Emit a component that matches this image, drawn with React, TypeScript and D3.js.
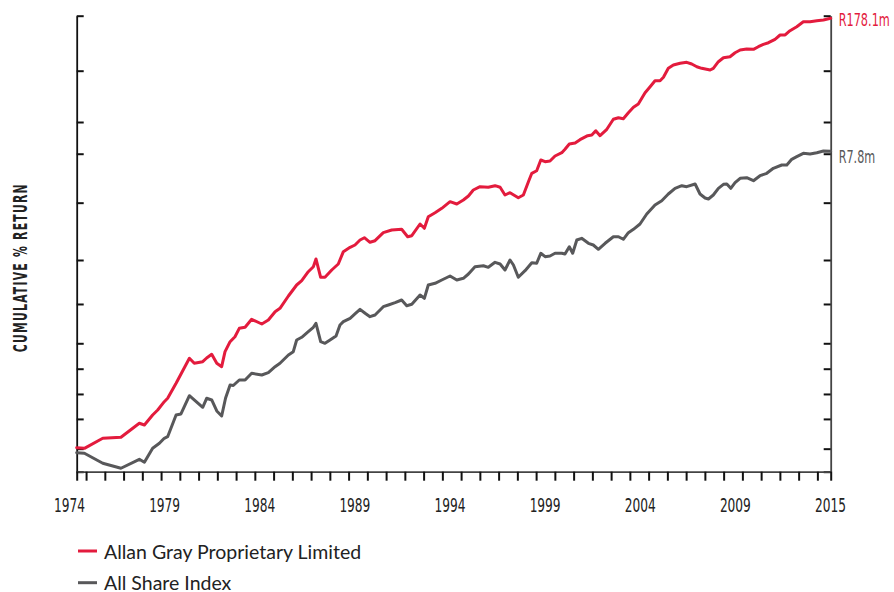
import React, { useEffect, useRef } from "react";
import * as d3 from "d3";

// cumulative value in R thousands, [decimal year, value]
const agSeries: [number, number][] = [
  [1974.50, 7.32], [1974.91, 7.21], [1975.89, 9.13], [1976.86, 9.35], [1977.84, 12.99], [1978.11, 12.49],
  [1978.55, 15.79], [1978.82, 17.76], [1979.17, 21.59], [1979.35, 23.39], [1979.80, 33.29], [1980.51, 59.93],
  [1980.77, 53.27], [1981.22, 55.33], [1981.43, 60.36], [1981.70, 65.83], [1981.97, 53.27], [1982.23, 49.18],
  [1982.41, 69.98], [1982.68, 88.58], [1982.94, 99.6], [1983.17, 121.3], [1983.48, 124.3], [1983.83, 150.0],
  [1984.37, 134.3], [1984.72, 147.5], [1985.08, 179.3], [1985.34, 194.2], [1985.79, 259.4], [1986.23, 336.0],
  [1986.50, 371.7], [1986.85, 459.4], [1987.12, 516.7], [1987.26, 619.5], [1987.51, 402.7], [1987.74, 402.7],
  [1988.10, 478.2], [1988.45, 550.7], [1988.72, 735.5], [1989.08, 815.5], [1989.34, 861.0], [1989.61, 968.3],
  [1989.84, 1022], [1990.14, 917.4], [1990.41, 952.6], [1990.85, 1150], [1991.30, 1225], [1991.83, 1245],
  [1992.15, 1046], [1992.37, 1072], [1992.81, 1411], [1993.04, 1275], [1993.25, 1675], [1993.61, 1840],
  [1993.97, 2040], [1994.41, 2384], [1994.77, 2258], [1995.12, 2480], [1995.39, 2726], [1995.65, 3139],
  [1996.01, 3393], [1996.45, 3346], [1996.81, 3474], [1997.08, 3346], [1997.34, 2791], [1997.61, 2946],
  [1998.05, 2619], [1998.32, 2791], [1998.59, 3816], [1998.77, 4649], [1999.03, 4941], [1999.25, 6356],
  [1999.48, 6108], [1999.74, 6209], [2000.01, 6985], [2000.37, 7547], [2000.54, 8175], [2000.77, 9262],
  [2001.08, 9483], [2001.34, 10250], [2001.75, 11260], [2001.97, 11450], [2002.18, 12660], [2002.41, 11260],
  [2002.77, 13090], [2003.12, 16560], [2003.39, 17190], [2003.65, 16800], [2003.92, 19340], [2004.19, 21960],
  [2004.45, 23730], [2004.81, 30950], [2005.08, 35650], [2005.34, 41050], [2005.61, 41050], [2005.79, 44460],
  [2006.05, 54950], [2006.32, 59380], [2006.68, 61800], [2007.03, 63270], [2007.30, 60800], [2007.57, 57060],
  [2007.83, 54950], [2008.28, 52790], [2008.45, 54950], [2008.72, 64180], [2008.99, 70510], [2009.34, 72190],
  [2009.61, 79300], [2009.88, 84540], [2010.23, 86540], [2010.59, 85920], [2010.85, 91330], [2011.12, 96630],
  [2011.39, 100350], [2011.74, 108700], [2012.01, 120300], [2012.28, 120300], [2012.54, 133000], [2012.90, 146200],
  [2013.25, 164400], [2013.61, 164400], [2013.97, 168300], [2014.32, 171100], [2014.71, 178100],
];

const asiSeries: [number, number][] = [
  [1974.50, 6.51], [1974.91, 6.42], [1975.89, 5.07], [1976.86, 4.51], [1977.84, 5.57], [1978.11, 5.19],
  [1978.55, 7.21], [1978.91, 8.11], [1979.17, 9.13], [1979.35, 9.48], [1979.80, 15.79], [1980.06, 16.17],
  [1980.51, 24.86], [1981.22, 18.93], [1981.43, 23.39], [1981.70, 22.47], [1981.97, 17.35], [1982.23, 15.43],
  [1982.44, 23.56], [1982.68, 31.98], [1982.85, 31.61], [1983.17, 35.96], [1983.48, 35.96], [1983.83, 42.10],
  [1984.37, 40.46], [1984.72, 42.70], [1985.08, 49.18], [1985.34, 53.27], [1985.79, 64.75], [1986.05, 69.98],
  [1986.23, 92.18], [1986.50, 98.2], [1986.85, 112.0], [1987.12, 124.3], [1987.26, 136.5], [1987.51, 88.58],
  [1987.74, 85.28], [1988.01, 92.18], [1988.33, 101.2], [1988.54, 131.2], [1988.72, 141.8], [1989.08, 153.5],
  [1989.34, 169.9], [1989.61, 189.7], [1989.88, 172.7], [1990.14, 159.4], [1990.41, 165.9], [1990.85, 201.7],
  [1991.12, 209.9], [1991.48, 221.6], [1991.83, 236.1], [1992.10, 206.5], [1992.37, 213.4], [1992.81, 265.6],
  [1993.04, 245.7], [1993.25, 336.0], [1993.61, 349.7], [1993.97, 377.9], [1994.41, 415.2], [1994.77, 377.9],
  [1995.12, 393.3], [1995.39, 435.2], [1995.74, 516.8], [1996.19, 529.0], [1996.45, 509.5], [1996.81, 573.1],
  [1997.08, 550.7], [1997.34, 478.2], [1997.61, 605.1], [1997.79, 537.9], [1998.05, 402.7], [1998.41, 470.4],
  [1998.77, 567.7], [1999.03, 559.8], [1999.25, 708.5], [1999.48, 653.9], [1999.74, 664.8], [2000.01, 708.5],
  [2000.37, 708.5], [2000.54, 696.6], [2000.77, 827.0], [2000.95, 708.5], [2001.17, 968.3], [2001.43, 1008],
  [2001.79, 896.1], [2002.05, 861.0], [2002.32, 778.0], [2002.68, 896.1], [2003.12, 1046], [2003.39, 1046],
  [2003.65, 984.5], [2003.92, 1150], [2004.19, 1245], [2004.54, 1411], [2004.90, 1785], [2005.34, 2206],
  [2005.70, 2440], [2006.05, 2857], [2006.41, 3267], [2006.77, 3474], [2007.03, 3393], [2007.48, 3615],
  [2007.74, 2857], [2008.01, 2601], [2008.19, 2540], [2008.45, 2791], [2008.72, 3267], [2008.99, 3589],
  [2009.17, 3615], [2009.38, 3267], [2009.61, 3727], [2009.88, 4134], [2010.23, 4193], [2010.59, 3907],
  [2010.94, 4394], [2011.30, 4649], [2011.65, 5229], [2012.10, 5652], [2012.37, 5652], [2012.63, 6463],
  [2012.90, 6870], [2013.25, 7442], [2013.61, 7320], [2013.97, 7547], [2014.32, 7858], [2014.71, 7800],
];

const yearLabels = ["1974", "1979", "1984", "1989", "1994", "1999", "2004", "2009", "2015"];
const yTickValues = [4.16, 7.15, 14.4, 25.9, 46.9, 85.3, 215, 605, 2330, 7370, 15540, 51940, 189400];
const seriesNames = ["Allan Gray Proprietary Limited", "All Share Index"];
const endLabels = ["R178.1m", "R7.8m"];

const RED = "#e31b3d";
const GREY = "#58585a";
const narrow = "'Liberation Sans Narrow', 'DejaVu Sans Condensed', 'Roboto', sans-serif";

export default function App() {
  const svgRef = useRef<SVGSVGElement>(null);

  useEffect(() => {
    const svg = d3.select(svgRef.current);
    svg.selectAll("*").remove();

    const plot = { left: 76.7, right: 830.7, top: 15.7, bottom: 471.7 };

    const x = d3.scaleLinear().domain([1974.5, 2014.71]).range([plot.left, plot.right]);
    const y = d3
      .scaleLog()
      .domain([yTickValues[0], yTickValues[yTickValues.length - 1]])
      .range([plot.bottom, plot.top]);

    // axes
    const styleAxis = (g, domainColor) => {
      g.select(".domain").attr("stroke", domainColor).attr("stroke-width", 1.8);
      g.selectAll(".tick line").attr("stroke", "#111").attr("stroke-width", 2);
    };

    svg
      .append("g")
      .attr("transform", `translate(${plot.left},0)`)
      .call(d3.axisLeft(y).tickValues(yTickValues).tickSize(-7).tickSizeOuter(0).tickFormat(() => ""))
      .call((g) => styleAxis(g, "#111"));

    svg
      .append("g")
      .attr("transform", `translate(${plot.right},0)`)
      .call(d3.axisRight(y).tickValues(yTickValues).tickSize(-7).tickSizeOuter(0).tickFormat(() => ""))
      .call((g) => styleAxis(g, "#444"));

    const xTicks = [x.domain()[0], ...d3.range(1975, 2015), x.domain()[1]];
    svg
      .append("g")
      .attr("transform", `translate(0,${plot.bottom})`)
      .call(d3.axisBottom(x).tickValues(xTicks).tickSize(9).tickSizeOuter(0).tickFormat(() => ""))
      .call((g) => styleAxis(g, "#444"));

    // year labels, spread evenly under the axis
    const labelX = d3.scalePoint().domain(yearLabels).range([69.5, 830.5]);
    svg
      .append("g")
      .selectAll("text")
      .data(yearLabels)
      .join("text")
      .attr("x", (d) => labelX(d))
      .attr("y", 511.5)
      .attr("text-anchor", "middle")
      .attr("textLength", 31)
      .attr("lengthAdjust", "spacingAndGlyphs")
      .style("font-family", narrow)
      .style("font-size", "19px")
      .attr("fill", "#222")
      .text((d) => d);

    // y title
    svg
      .append("text")
      .attr("transform", `translate(26.5,${(plot.top + plot.bottom) / 2 + 24}) rotate(-90)`)
      .attr("text-anchor", "middle")
      .attr("textLength", 169)
      .attr("lengthAdjust", "spacingAndGlyphs")
      .style("font-family", narrow)
      .style("font-size", "20px")
      .style("font-weight", "bold")
      .style("letter-spacing", "2px")
      .attr("fill", "#222")
      .text("CUMULATIVE % RETURN");

    // lines
    const line = d3
      .line<[number, number]>()
      .x((d) => x(d[0]))
      .y((d) => y(d[1]));

    const series = [
      { data: asiSeries, color: GREY, label: endLabels[1], dy: 12 },
      { data: agSeries, color: RED, label: endLabels[0], dy: 7.5 },
    ];

    series.forEach(({ data, color }) => {
      svg
        .append("path")
        .datum(data)
        .attr("d", line)
        .attr("fill", "none")
        .attr("stroke", color)
        .attr("stroke-width", 3)
        .attr("stroke-linejoin", "round")
        .attr("stroke-linecap", "round");
    });

    // end value labels
    series.forEach(({ data, color, label, dy }) => {
      const last = data[data.length - 1];
      svg
        .append("text")
        .attr("x", plot.right + 8)
        .attr("y", y(last[1]) + dy)
        .attr("textLength", label.length * 7.3)
        .attr("lengthAdjust", "spacingAndGlyphs")
        .style("font-family", narrow)
        .style("font-size", "17px")
        .attr("fill", color)
        .text(label);
    });

    // legend
    const legend = svg.append("g").attr("transform", "translate(78,551)");
    [RED, GREY].forEach((color, i) => {
      legend
        .append("line")
        .attr("x1", 0)
        .attr("x2", 19)
        .attr("y1", i * 31.7)
        .attr("y2", i * 31.7)
        .attr("stroke", color)
        .attr("stroke-width", 3);
      legend
        .append("text")
        .attr("x", 26)
        .attr("y", i * 31.7 + 7.5)
        .style("font-family", "Lato, 'Noto Sans', sans-serif")
        .style("font-size", "19.5px")
        .attr("fill", "#222")
        .text(seriesNames[i]);
    });
  }, []);

  return (
    <svg
      ref={svgRef}
      width={894}
      height={592}
      style={{ position: "absolute", left: 0, top: 0, background: "#fff" }}
    />
  );
}
